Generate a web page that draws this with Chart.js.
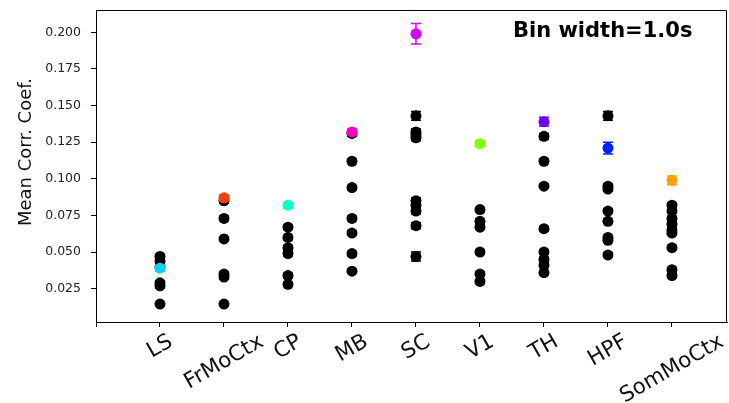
<!DOCTYPE html>
<html>
<head>
<meta charset="utf-8">
<script src="https://cdn.jsdelivr.net/npm/chart.js@4/dist/chart.umd.min.js"></script>
<style>
  html, body { margin: 0; padding: 0; background: #fff; }
  #wrap { width: 729px; height: 403px; }
</style>
</head>
<body>
<div id="wrap"><canvas id="chart" width="729" height="403"></canvas></div>
<script>
// Brain regions along the x axis
const regions = ['LS', 'FrMoCtx', 'CP', 'MB', 'SC', 'V1', 'TH', 'HPF', 'SomMoCtx'];

// Mean correlation coefficient per region (coloured markers) and its error
const regionMean = [0.039, 0.087, 0.082, 0.132, 0.199, 0.124, 0.139, 0.121, 0.099];
const regionErr  = [0.002, 0.002, 0.002, 0.002, 0.007, 0.002, 0.003, 0.004, 0.003];
const regionColors = ['#10cdf5', '#ff3d0a', '#0cffc8', '#ff00c0', '#d800ff',
                      '#80ff00', '#6e00ff', '#0020ff', '#ffa000'];

// Per-session values for each region (black markers) and their errors
const sessionCorr = [
  [0.047, 0.044, 0.040, 0.029, 0.027, 0.0145],
  [0.085, 0.073, 0.059, 0.035, 0.033, 0.0145],
  [0.067, 0.060, 0.053, 0.049, 0.034, 0.028],
  [0.131, 0.112, 0.094, 0.073, 0.063, 0.049, 0.037],
  [0.143, 0.132, 0.130, 0.128, 0.085, 0.082, 0.078, 0.068, 0.047],
  [0.079, 0.071, 0.067, 0.050, 0.035, 0.030],
  [0.129, 0.112, 0.095, 0.066, 0.050, 0.045, 0.041, 0.036],
  [0.143, 0.095, 0.093, 0.078, 0.071, 0.060, 0.058, 0.048],
  [0.082, 0.078, 0.073, 0.069, 0.065, 0.063, 0.053, 0.038, 0.034]
];
const sessionErr = [
  [0.0015, 0.0015, 0.0015, 0.0015, 0.0015, 0.001],
  [0.0015, 0.0015, 0.0015, 0.0015, 0.0015, 0.001],
  [0.0015, 0.0015, 0.0015, 0.0015, 0.0015, 0.0015],
  [0.002, 0.0015, 0.0015, 0.0015, 0.0015, 0.0015, 0.0015],
  [0.003, 0.002, 0.002, 0.002, 0.002, 0.002, 0.002, 0.002, 0.003],
  [0.0015, 0.0015, 0.0015, 0.0015, 0.0015, 0.0015],
  [0.002, 0.0015, 0.0015, 0.0015, 0.0015, 0.0015, 0.0015, 0.0015],
  [0.003, 0.0015, 0.0015, 0.0015, 0.0015, 0.0015, 0.0015, 0.0015],
  [0.0015, 0.0015, 0.0015, 0.0015, 0.0015, 0.0015, 0.0015, 0.0015, 0.0015]
];

const yTicks = [0.025, 0.050, 0.075, 0.100, 0.125, 0.150, 0.175, 0.200];
const yTitle = 'Mean Corr. Coef.';
const binLabel = 'Bin width=1.0s';

// Flatten the session values into scatter points at x = region position (1..9)
const sessionPoints = [], sessionPointErr = [];
sessionCorr.forEach((vals, i) => vals.forEach((v, j) => {
  sessionPoints.push({ x: i + 1, y: v });
  sessionPointErr.push(sessionErr[i][j]);
}));
const meanPoints = regionMean.map((v, i) => ({ x: i + 1, y: v }));

const FONT = 'DejaVu Sans';

// Vertical error bars with caps, drawn just before each dataset's markers
const errorBars = {
  id: 'errorBars',
  beforeDatasetDraw(chart, args) {
    const ds = chart.data.datasets[args.index];
    if (!ds.errors) return;
    const { ctx, scales: { x, y } } = chart;
    ctx.save();
    ctx.lineWidth = 1.5;
    ds.data.forEach((p, i) => {
      const c = Array.isArray(ds.backgroundColor) ? ds.backgroundColor[i] : ds.backgroundColor;
      const px = x.getPixelForValue(p.x);
      const top = y.getPixelForValue(p.y + ds.errors[i]);
      const bot = y.getPixelForValue(p.y - ds.errors[i]);
      ctx.strokeStyle = c;
      ctx.beginPath();
      ctx.moveTo(px, top); ctx.lineTo(px, bot);
      ctx.moveTo(px - 5, top); ctx.lineTo(px + 5, top);
      ctx.moveTo(px - 5, bot); ctx.lineTo(px + 5, bot);
      ctx.stroke();
    });
    ctx.restore();
  }
};

// Top/right frame lines, y title, rotated region names and the bin-width note
const decorations = {
  id: 'decorations',
  afterDraw(chart) {
    const { ctx, chartArea: a, scales: { x } } = chart;
    ctx.save();
    ctx.strokeStyle = '#000';
    ctx.lineWidth = 1;
    ctx.beginPath();
    ctx.moveTo(a.left, a.top + 0.5); ctx.lineTo(a.right - 0.5, a.top + 0.5);
    ctx.lineTo(a.right - 0.5, a.bottom);
    ctx.stroke();

    // y-axis title
    ctx.save();
    ctx.font = '18px "' + FONT + '"';
    ctx.fillStyle = '#111';
    ctx.textAlign = 'center';
    ctx.textBaseline = 'middle';
    ctx.translate(26, 152);
    ctx.rotate(-Math.PI / 2);
    ctx.fillText(yTitle, 0, 0);
    ctx.restore();

    // Region labels rotated 30 degrees, bounding box centred under each tick
    const fs = 21.5;
    ctx.font = fs + 'px "' + FONT + '"';
    ctx.fillStyle = '#111';
    ctx.textAlign = 'center';
    ctx.textBaseline = 'middle';
    const ang = Math.PI / 6;
    regions.forEach((name, i) => {
      const w = ctx.measureText(name).width;
      const h = fs * 1.0;
      const H = w * Math.sin(ang) + h * Math.cos(ang);
      const cx = x.getPixelForValue(i + 1);
      const cy = a.bottom + 9 + H / 2;
      ctx.save();
      ctx.translate(cx, cy);
      ctx.rotate(-ang);
      ctx.fillText(name, 0, 0);
      ctx.restore();
    });

    ctx.font = 'bold 21px "' + FONT + '"';
    ctx.fillStyle = '#000';
    ctx.textAlign = 'left';
    ctx.textBaseline = 'middle';
    ctx.fillText(binLabel, 513, 32);
    ctx.restore();
  }
};

// Keep the plot frame exactly where the layout padding puts it
function noScalePadding(scale) {
  scale.paddingTop = 0;
  scale.paddingBottom = 0;
  scale.paddingLeft = 0;
  scale.paddingRight = 0;
}

new Chart(document.getElementById('chart'), {
  type: 'scatter',
  data: {
    datasets: [
      {
        data: sessionPoints,
        errors: sessionPointErr,
        backgroundColor: '#000',
        borderWidth: 0,
        pointRadius: 5.5,
        order: 2
      },
      {
        data: meanPoints,
        errors: regionErr,
        backgroundColor: regionColors,
        borderWidth: 0,
        pointRadius: 5.5,
        order: 1
      }
    ]
  },
  options: {
    responsive: false,
    animation: false,
    events: [],
    layout: { autoPadding: false, padding: { left: 0, right: 2, top: 10, bottom: 0 } },
    plugins: { legend: { display: false }, tooltip: { enabled: false } },
    scales: {
      x: {
        type: 'linear',
        min: 0,
        max: 9.86,
        afterBuildTicks(scale) { scale.ticks = [0, 1, 2, 3, 4, 5, 6, 7, 8, 9].map(v => ({ value: v })); },
        afterFit(scale) { scale.height = 81; noScalePadding(scale); },
        ticks: { display: false },
        grid: { display: true, drawOnChartArea: false, drawTicks: true, tickLength: 5, color: '#000', tickWidth: 1 },
        border: { display: true, color: '#000', width: 1 }
      },
      y: {
        type: 'linear',
        min: 0.0023,
        max: 0.2152,
        afterBuildTicks(scale) { scale.ticks = yTicks.map(v => ({ value: v })); },
        afterFit(scale) { scale.width = 96; noScalePadding(scale); },
        ticks: {
          font: { family: FONT, size: 12.5 },
          color: '#222',
          padding: 10,
          callback: v => v.toFixed(3)
        },
        grid: { display: true, drawOnChartArea: false, drawTicks: true, tickLength: 5, color: '#000', tickWidth: 1 },
        border: { display: true, color: '#000', width: 1 }
      }
    }
  },
  plugins: [errorBars, decorations]
});
</script>
</body>
</html>
